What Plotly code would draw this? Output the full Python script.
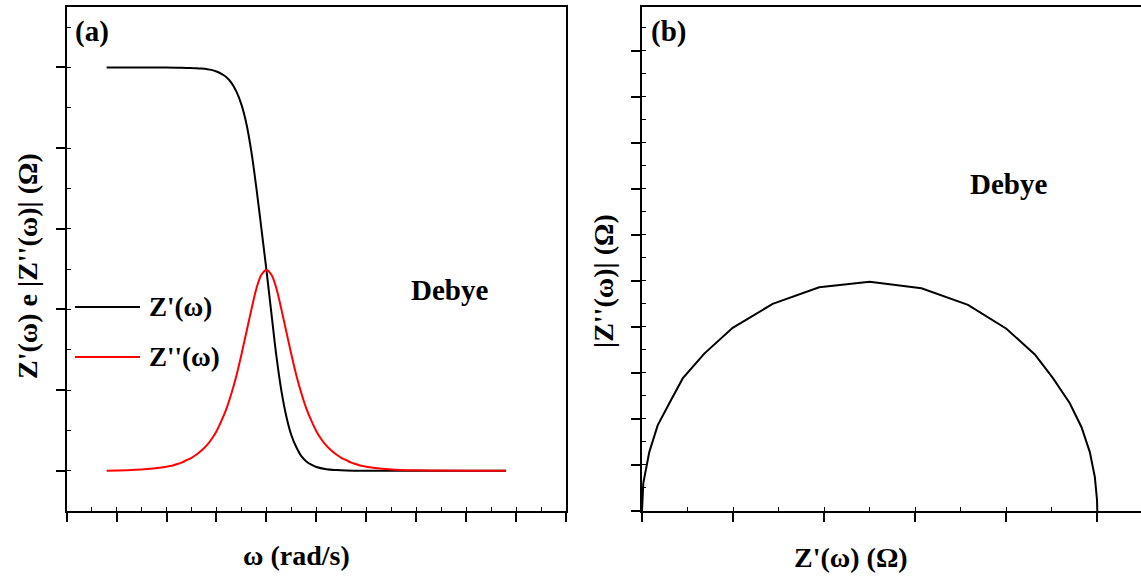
import plotly.graph_objects as go

# ---- Panel (a): impedance components versus frequency (decade units) ----
w_real = [0.8, 1.5, 2.0, 2.2, 2.4, 2.6, 2.7, 2.8, 2.9, 3.0, 3.1, 3.2, 3.3, 3.4, 3.5, 3.6, 3.7,
          3.8, 3.9, 4.0, 4.1, 4.2, 4.3, 4.4, 4.5, 4.6, 4.7, 4.8, 4.9, 5.0, 5.2,
          5.4, 5.6, 6.0, 7.0, 8.8]
z_real = [5.0, 5.0, 5.0, 4.998, 4.994, 4.99, 4.986, 4.98, 4.97, 4.95, 4.92, 4.88, 4.81, 4.70, 4.54, 4.30, 3.95,
          3.50, 3.00, 2.49, 1.95, 1.42, 0.99, 0.67, 0.44, 0.29, 0.18, 0.115, 0.075, 0.045, 0.018,
          0.008, 0.003, 0.0, 0.0, 0.0]

w_imag = [0.8, 1.5, 2.0, 2.1, 2.2, 2.3, 2.4, 2.5, 2.6, 2.7, 2.8, 2.9, 3.0, 3.1, 3.2,
          3.3, 3.4, 3.5, 3.6, 3.7, 3.8, 3.9, 4.0, 4.1, 4.2, 4.3, 4.4, 4.5, 4.6, 4.7,
          4.8, 4.9, 5.0, 5.1, 5.2, 5.3, 5.4, 5.5, 5.6, 5.7, 5.8, 5.9, 6.0, 6.5, 7.0, 8.8]
z_imag = [0.0, 0.016, 0.05, 0.06, 0.08, 0.10, 0.13, 0.16, 0.20, 0.25, 0.31, 0.39, 0.49, 0.62, 0.77,
          0.96, 1.18, 1.44, 1.72, 2.00, 2.26, 2.43, 2.49, 2.43, 2.26, 2.00, 1.72, 1.44, 1.18, 0.96,
          0.77, 0.62, 0.49, 0.39, 0.31, 0.25, 0.20, 0.16, 0.13, 0.10, 0.08, 0.06, 0.05, 0.016, 0.005, 0.0]

# ---- Panel (b): Nyquist plot (imaginary vs real part) ----
nyq_re = [0.0, 0.003, 0.014, 0.080, 0.172, 0.300, 0.447, 0.684, 0.996, 1.435,
          1.946, 2.5, 3.069, 3.580, 4.002, 4.314, 4.515, 4.698, 4.827, 4.918,
          4.973, 4.997, 5.0]
nyq_im = [0.0, 0.12, 0.30, 0.64, 0.93, 1.17, 1.44, 1.71, 1.99, 2.25,
          2.43, 2.49, 2.42, 2.24, 1.98, 1.70, 1.44, 1.17, 0.91, 0.64,
          0.37, 0.12, 0.0]

legend_names = ["Z'(\u03c9)", "Z''(\u03c9)"]
model_label = "Debye"

W, H = 1141, 577
FONT = "Liberation Serif, Times New Roman, serif"


def px_x(p):
    return p / W


def px_y(p):
    return 1 - p / H


fig = go.Figure()

fig.add_trace(go.Scatter(x=w_real, y=z_real, mode="lines", name=legend_names[0],
                         line=dict(color="black", width=2, shape="spline", smoothing=1.0),
                         xaxis="x", yaxis="y", showlegend=False))
fig.add_trace(go.Scatter(x=w_imag, y=z_imag, mode="lines", name=legend_names[1],
                         line=dict(color="#ff0000", width=2, shape="spline", smoothing=1.0),
                         xaxis="x", yaxis="y", showlegend=False))
fig.add_trace(go.Scatter(x=nyq_re, y=nyq_im, mode="lines",
                         line=dict(color="black", width=2),
                         xaxis="x2", yaxis="y2", showlegend=False))

axis_common = dict(showline=True, linecolor="black", linewidth=2, showgrid=False,
                   zeroline=False, showticklabels=False, ticks="outside",
                   ticklen=9, tickwidth=1.6, tickcolor="black")

top_px, bottom_px = 7, 511
ydom = [px_y(bottom_px), px_y(top_px)]

fig.update_layout(
    width=W, height=H,
    margin=dict(l=0, r=0, t=0, b=0),
    paper_bgcolor="white", plot_bgcolor="white",
    font=dict(family=FONT, color="black"),
    xaxis=dict(domain=[px_x(66.7), px_x(566)], range=[0, 10], dtick=1, tick0=0,
               mirror=True, anchor="y",
               minor=dict(ticks="inside", dtick=0.5, ticklen=4, tickwidth=1, tickcolor="black"),
               **axis_common),
    yaxis=dict(domain=ydom, range=[-0.5, 5.75], dtick=1, tick0=0,
               mirror=True, anchor="x",
               minor=dict(ticks="inside", dtick=0.5, ticklen=4, tickwidth=1, tickcolor="black"),
               **axis_common),
    xaxis2=dict(domain=[px_x(642), 1.0], range=[0, 5.48], dtick=1, tick0=0,
                mirror=True, anchor="y2",
                minor=dict(ticks="inside", dtick=0.5, ticklen=4, tickwidth=1, tickcolor="black"),
                **axis_common),
    yaxis2=dict(domain=ydom, range=[0, 5.475], dtick=0.5, tick0=0,
                mirror=False, anchor="x2",
                minor=dict(ticks="inside", dtick=0.25, ticklen=4, tickwidth=1, tickcolor="black"),
                **axis_common),
)

bold = dict(family=FONT, color="black", weight="bold")


def label(text, x, y, size, angle=0, xanchor="center"):
    fig.add_annotation(text=text, x=px_x(x), y=px_y(y), xref="paper", yref="paper",
                       showarrow=False, textangle=angle, xanchor=xanchor, yanchor="middle",
                       font=dict(size=size, **bold))


# panel tags
label("(a)", 73, 32, 29, xanchor="left")
label("(b)", 649, 32, 29, xanchor="left")

# axis titles
label("\u03c9 (rad/s)", 297, 555, 28)
label("Z'(\u03c9) (\u03a9)", 851, 557, 28)
label("Z'(\u03c9) e |Z''(\u03c9)| (\u03a9)", 27, 266, 28, angle=-90)
label("|Z''(\u03c9)| (\u03a9)", 603, 281, 28, angle=-90)

# model tags
label(model_label, 449, 290, 29)
label(model_label, 1008, 184, 29)

# legend entries
for i, (name, color) in enumerate(zip(legend_names, ["black", "#ff0000"])):
    ly = 307 + 50 * i
    fig.add_shape(type="line", xref="paper", yref="paper",
                  x0=px_x(75), x1=px_x(140), y0=px_y(ly), y1=px_y(ly),
                  line=dict(color=color, width=2))
    label(name, 147, ly, 27, xanchor="left")

fig.write_html("out.html")
